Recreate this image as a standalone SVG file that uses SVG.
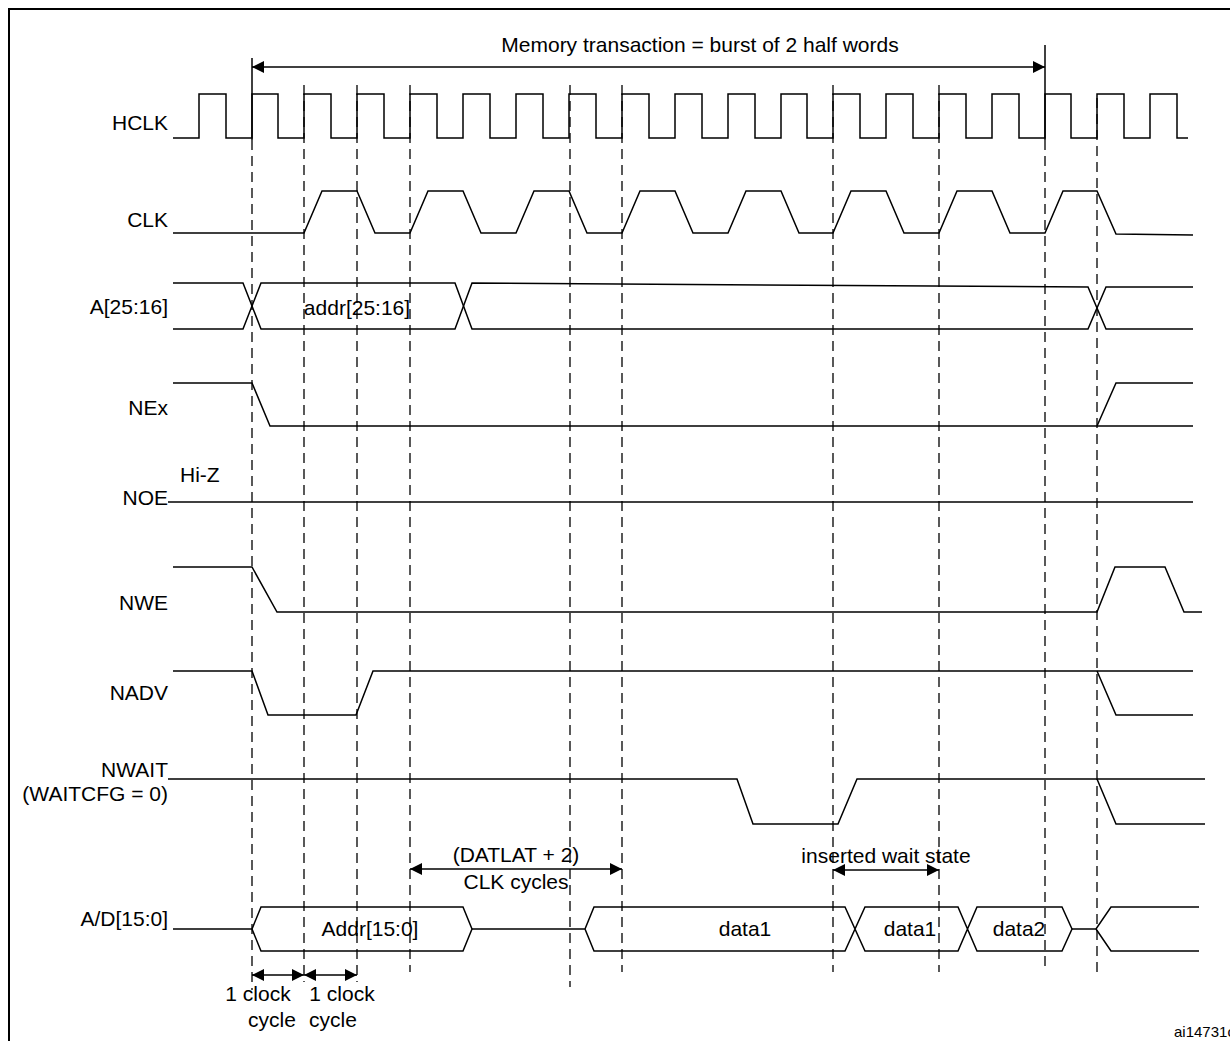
<svg xmlns="http://www.w3.org/2000/svg" width="1230" height="1041" viewBox="0 0 1230 1041">
<style>
.s{fill:none;stroke:#000;stroke-width:1.5}
.d{fill:none;stroke:#000;stroke-width:1.3;stroke-dasharray:10 6}
.a{fill:none;stroke:#000;stroke-width:1.5;marker-start:url(#ah);marker-end:url(#ah)}
text{font-family:"Liberation Sans",Arial,sans-serif;font-size:21px;fill:#000}
.r{text-anchor:end}
.m{text-anchor:middle}
</style>
<defs>
<marker id="ah" viewBox="0 0 10 10" refX="10" refY="5" markerWidth="12" markerHeight="12" markerUnits="userSpaceOnUse" orient="auto-start-reverse"><path d="M0,0 L10,5 L0,10 z" fill="#000"/></marker>
</defs>
<rect x="9" y="9" width="1230" height="1050" fill="#fff" stroke="#000" stroke-width="2"/>
<g id="labels">
<text class="r" x="168" y="130">HCLK</text>
<text class="r" x="168" y="227">CLK</text>
<text class="r" x="168" y="314">A[25:16]</text>
<text class="r" x="168" y="415">NEx</text>
<text x="180" y="482">Hi-Z</text>
<text class="r" x="168" y="505">NOE</text>
<text class="r" x="168" y="610">NWE</text>
<text class="r" x="168" y="700">NADV</text>
<text class="r" x="168" y="777">NWAIT</text>
<text class="r" x="168" y="801">(WAITCFG = 0)</text>
<text class="r" x="168" y="926">A/D[15:0]</text>
</g>
<g id="guides">
<line class="s" x1="252" y1="58" x2="252" y2="140"/>
<line class="d" x1="252" y1="140" x2="252" y2="990"/>
<line class="d" x1="304" y1="85" x2="304" y2="982"/>
<line class="d" x1="357" y1="85" x2="357" y2="982"/>
<line class="d" x1="410" y1="85" x2="410" y2="972"/>
<line class="d" x1="570" y1="85" x2="570" y2="987"/>
<line class="d" x1="622" y1="85" x2="622" y2="972"/>
<line class="d" x1="833" y1="85" x2="833" y2="972"/>
<line class="d" x1="939" y1="85" x2="939" y2="972"/>
<line class="s" x1="1045" y1="45" x2="1045" y2="140"/>
<line class="d" x1="1045" y1="140" x2="1045" y2="972"/>
<line class="d" x1="1097" y1="98" x2="1097" y2="975"/>
</g>
<g id="HCLK">
<path class="s" d="M173,138 H199 V94 H226 V138 H252 V94 H278 V138 H304 V94 H331 V138 H357 V94 H384 V138 H410 V94 H437 V138 H463 V94 H490 V138 H516 V94 H543 V138 H569 V94 H596 V138 H622 V94 H649 V138 H675 V94 H702 V138 H728 V94 H755 V138 H781 V94 H807 V138 H833 V94 H860 V138 H886 V94 H913 V138 H939 V94 H966 V138 H992 V94 H1019 V138 H1045 V94 H1071 V138 H1097 V94 H1124 V138 H1150 V94 H1177 V138 H1188"/>
</g>
<g id="CLK">
<path class="s" d="M173,233 H304 L322,191 H357 L375,233 H410 L428,191 H463 L481,233 H516 L534,191 H569 L587,233 H622 L640,191 H675 L693,233 H728 L746,191 H781 L799,233 H833 L851,191 H886 L904,233 H939 L957,191 H992 L1010,233 H1045 L1063,191 H1097 L1116,234 L1193,235"/>
</g>
<g id="A25_16">
<path class="s" d="M173,283 H243 L261,329 H455 L472,283 L1088,287 L1106,329 H1193"/>
<path class="s" d="M173,329 H243 L261,283 H455 L472,329 H1088 L1106,287 H1193"/>
<text class="m" x="357" y="315">addr[25:16]</text>
</g>
<g id="NEx">
<path class="s" d="M173,383 H252 L270,426 H1193"/>
<path class="s" d="M1097,426 L1116,383 H1193"/>
</g>
<g id="NOE"><line class="s" x1="168" y1="502" x2="1193" y2="502"/></g>
<g id="NWE"><path class="s" d="M173,567 H252 L277,612 H1097 L1115,567 H1165 L1184,612 H1202"/></g>
<g id="NADV">
<path class="s" d="M173,671 H252 L268,715 H356 L373,671 H1193"/>
<path class="s" d="M1097,671 L1116,715 H1193"/>
</g>
<g id="NWAIT">
<path class="s" d="M168,779 H737 L753,824 H838 L857,779 H1205"/>
<path class="s" d="M1097,779 L1116,824 H1205"/>
</g>
<g id="AD15_0">
<path class="s" d="M173,929 H252 L261,907 H463 L472,929 L463,951 H261 L252,929"/>
<path class="s" d="M472,929 H585 L594,907 H845 L865,951 H958 L977,907 H1062 L1072,929 L1062,951 H977 L958,907 H865 L845,951 H594 L585,929"/>
<path class="s" d="M1072,929 H1096 L1111,907 H1199 M1096,929 L1111,951 H1199"/>
<text class="m" x="370" y="936">Addr[15:0]</text>
<text class="m" x="745" y="936">data1</text>
<text class="m" x="910" y="936">data1</text>
<text class="m" x="1019" y="936">data2</text>
</g>
<g id="connectors">
<line class="a" x1="252" y1="67" x2="1045" y2="67"/>
<line class="a" x1="410" y1="869" x2="622" y2="869"/>
<line class="a" x1="833" y1="870" x2="939" y2="870"/>
<line class="a" x1="252" y1="975" x2="304" y2="975"/>
<line class="a" x1="304" y1="975" x2="357" y2="975"/>
</g>
<g id="annotations">
<text class="m" x="700" y="52">Memory transaction = burst of 2 half words</text>
<text class="m" x="516" y="862">(DATLAT + 2)</text>
<text class="m" x="516" y="889">CLK cycles</text>
<text class="m" x="886" y="863">inserted wait state</text>
<text class="m" x="258" y="1001">1 clock</text>
<text class="m" x="272" y="1027">cycle</text>
<text class="m" x="342" y="1001">1 clock</text>
<text class="m" x="333" y="1027">cycle</text>
<text x="1174" y="1037" style="font-size:15px">ai14731c</text>
</g>
</svg>
